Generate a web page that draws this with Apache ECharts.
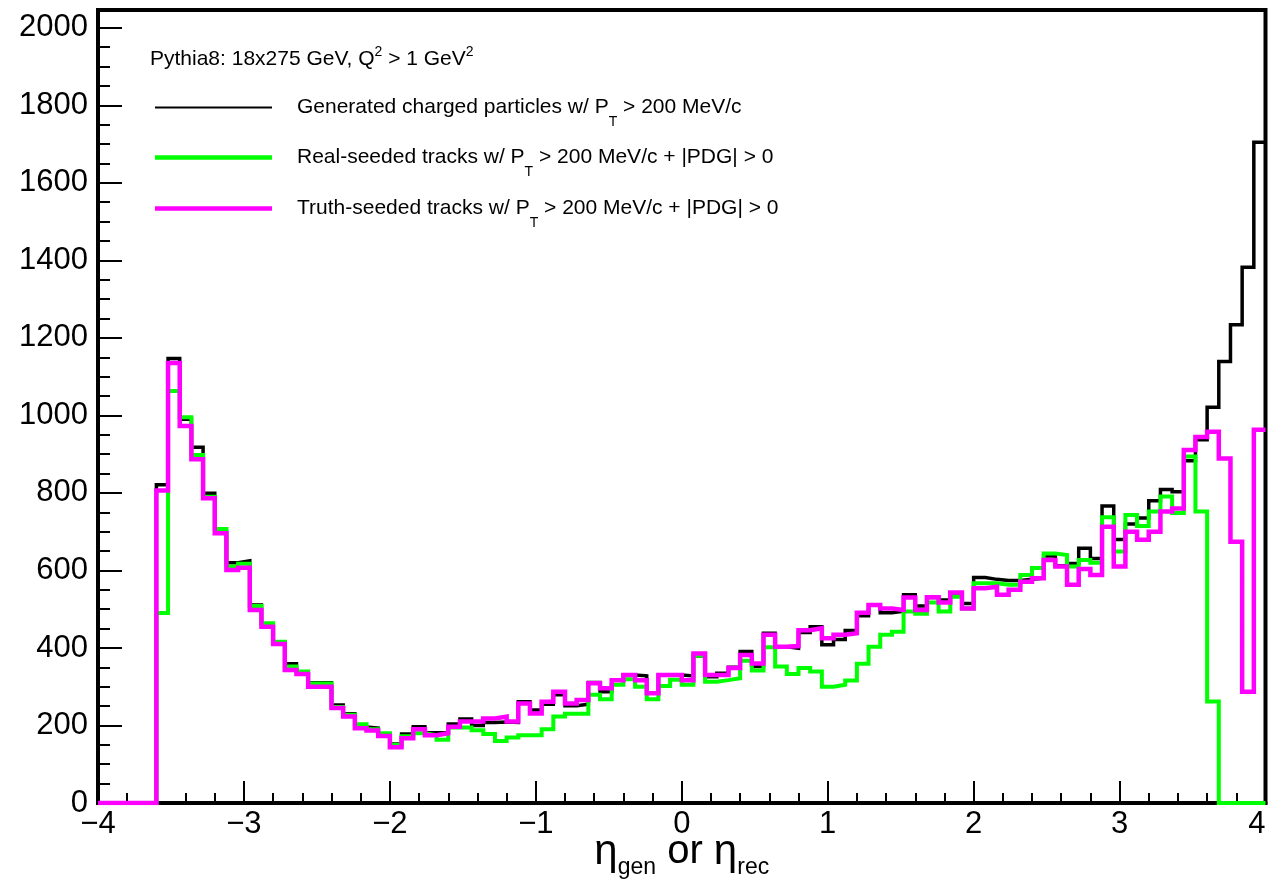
<!DOCTYPE html>
<html>
<head>
<meta charset="utf-8">
<title>eta distributions</title>
<script src="https://cdn.jsdelivr.net/npm/echarts@6/dist/echarts.min.js"></script>
<style>
  html, body { margin: 0; padding: 0; background: #ffffff; }
  #chart { width: 1269px; height: 880px; }
</style>
</head>
<body>
<div id="chart"></div>
<script>
// Histogram binning: 100 bins of width 0.08 over eta in [-4, 4]
const etaMin = -4;
const etaMax = 4;
const binWidth = 0.08;

// Bin contents, one entry per bin from eta = -4 upwards
const generated = [
  0, 0, 0, 0, 0, 821, 1147, 990, 918, 799,
  700, 620, 625, 511, 462, 416, 359, 338, 310, 310,
  253, 230, 196, 193, 178, 152, 178, 197, 181, 181,
  204, 217, 200, 208, 209, 208, 261, 240, 255, 279,
  251, 255, 311, 287, 317, 330, 328, 283, 330, 330,
  328, 379, 326, 335, 350, 391, 352, 438, 403, 399,
  440, 455, 408, 422, 445, 483, 511, 491, 495, 537,
  508, 530, 524, 534, 515, 582, 577, 574, 574, 577,
  580, 637, 612, 618, 657, 631, 766, 680, 720, 735,
  780, 809, 803, 883, 937, 1021, 1139, 1234, 1382, 1705
];

const realSeeded = [
  0, 0, 0, 0, 0, 490, 1063, 995, 898, 790,
  707, 610, 617, 508, 464, 416, 352, 339, 308, 308,
  248, 228, 203, 190, 180, 150, 172, 180, 175, 163,
  195, 195, 188, 178, 160, 169, 175, 175, 190, 223,
  230, 230, 279, 268, 305, 319, 300, 268, 302, 318,
  305, 380, 313, 317, 322, 367, 342, 402, 352, 333,
  348, 339, 300, 305, 316, 359, 403, 434, 442, 494,
  488, 517, 494, 532, 502, 567, 567, 563, 563, 588,
  606, 644, 640, 610, 627, 620, 737, 649, 743, 715,
  752, 791, 748, 894, 752, 262, 0, 0, 0, 0
];

const truthSeeded = [
  0, 0, 0, 0, 0, 806, 1135, 973, 887, 786,
  696, 601, 607, 498, 455, 410, 343, 333, 300, 300,
  245, 223, 193, 187, 173, 144, 167, 190, 175, 180,
  197, 210, 210, 218, 223, 210, 257, 231, 261, 287,
  257, 266, 309, 296, 317, 330, 317, 283, 330, 330,
  317, 386, 330, 330, 348, 382, 360, 434, 403, 405,
  446, 451, 425, 434, 438, 491, 511, 502, 498, 530,
  498, 531, 517, 543, 502, 554, 558, 537, 550, 571,
  580, 627, 610, 563, 604, 588, 713, 610, 700, 679,
  700, 752, 760, 911, 944, 958, 889, 674, 287, 963
];

// Series names (plain) and their rich-text legend labels
const seriesNames = [
  'Generated charged particles w/ PT > 200 MeV/c',
  'Real-seeded tracks w/ PT > 200 MeV/c + |PDG| > 0',
  'Truth-seeded tracks w/ PT > 200 MeV/c + |PDG| > 0'
];
const legendLabels = {
  [seriesNames[0]]: '{g|}{a|Generated charged particles w/ P}{s|T}{a| > 200 MeV/c}',
  [seriesNames[1]]: '{g|}{a|Real-seeded tracks w/ P}{s|T}{a| > 200 MeV/c + |PDG| > 0}',
  [seriesNames[2]]: '{g|}{a|Truth-seeded tracks w/ P}{s|T}{a| > 200 MeV/c + |PDG| > 0}'
};
const seriesColors = ['#000000', '#00ff00', '#ff00ff'];
const seriesWidths = [3.5, 4, 4.5];
const legendThickness = [2, 4.5, 4.5];
const legendLength = 117;

const yMax = 2046;
const font = "'Liberation Sans', Arial, Helvetica, sans-serif";

// Turn bin contents into left-edge step points, closing the last bin at etaMax
function toSteps(values) {
  const pts = values.map((v, i) => [+(etaMin + i * binWidth).toFixed(2), v]);
  pts.push([etaMax, values[values.length - 1]]);
  return pts;
}

const legendRich = {
  g: { width: 20 },
  a: { fontSize: 21, fontFamily: font, color: '#000', lineHeight: 44, verticalAlign: 'middle' },
  s: { fontSize: 14, fontFamily: font, color: '#000', lineHeight: 14, verticalAlign: 'bottom' }
};

function makeLegend(i, top) {
  const h = legendThickness[i];
  return {
    data: [{ name: seriesNames[i], icon: `path://M0,0H${legendLength}V${h}H0Z` }],
    left: 155,
    top: top,
    padding: 0,
    orient: 'vertical',
    itemWidth: legendLength,
    itemHeight: h,
    selectedMode: false,
    formatter: name => legendLabels[name],
    textStyle: { rich: legendRich }
  };
}

const minus = v => String(v).replace('-', '\u2212');

const chart = echarts.init(document.getElementById('chart'), null, { renderer: 'canvas' });

chart.setOption({
  animation: false,
  backgroundColor: '#ffffff',
  grid: {
    left: 98, right: 3.5, top: 10, bottom: 77,
    outerBoundsMode: 'none',
    containLabel: false,
    show: true, borderColor: '#000', borderWidth: 4, backgroundColor: 'transparent'
  },
  legend: [makeLegend(0, 97), makeLegend(1, 147), makeLegend(2, 198)],
  graphic: [{
    type: 'text',
    left: 150,
    top: 45,
    style: {
      text: '{a|Pythia8: 18x275 GeV, Q}{p|2}{a| > 1 GeV}{p|2}',
      rich: {
        a: { fontSize: 21, fontFamily: font, fill: '#000', lineHeight: 25, verticalAlign: 'bottom' },
        p: { fontSize: 14, fontFamily: font, fill: '#000', lineHeight: 14, verticalAlign: 'top' }
      }
    }
  }],
  xAxis: {
    type: 'value',
    min: etaMin, max: etaMax, interval: 1,
    axisLine: { onZero: false, lineStyle: { color: '#000', width: 4 } },
    axisTick: { inside: true, length: 22, lineStyle: { color: '#000', width: 2 } },
    minorTick: { show: true, splitNumber: 5, length: 10, lineStyle: { color: '#000', width: 2 } },
    splitLine: { show: false },
    axisLabel: {
      fontSize: 31, fontFamily: font, color: '#000', margin: 6, formatter: minus,
      alignMaxLabel: 'right'
    },
    name: '{e|\u03b7}{s|gen}{o| or }{e|\u03b7}{s|rec}',
    nameLocation: 'middle',
    nameGap: 22,
    nameMoveOverlap: false,
    nameTextStyle: {
      rich: {
        e: { fontSize: 42, fontFamily: font, color: '#000', lineHeight: 54, verticalAlign: 'middle' },
        o: { fontSize: 40, fontFamily: font, color: '#000', lineHeight: 54, verticalAlign: 'middle' },
        s: { fontSize: 23, fontFamily: font, color: '#000', lineHeight: 23, verticalAlign: 'bottom' }
      }
    }
  },
  yAxis: [{
    type: 'value',
    min: 0, max: yMax, interval: 200,
    axisLine: { onZero: false, lineStyle: { color: '#000', width: 4 } },
    axisTick: { inside: true, length: 24, lineStyle: { color: '#000', width: 2 } },
    splitLine: { show: false },
    axisLabel: {
      fontSize: 31, fontFamily: font, color: '#000', margin: 10, showMaxLabel: false,
      formatter: v => String(v)
    }
  }, {
    // minor ticks every 50
    type: 'value',
    position: 'left',
    min: 0, max: yMax, interval: 50,
    axisLine: { show: false, onZero: false },
    axisTick: { inside: true, length: 12, lineStyle: { color: '#000', width: 2 } },
    splitLine: { show: false },
    axisLabel: { show: false }
  }],
  series: [0, 1, 2].map(i => ({
    name: seriesNames[i],
    type: 'line',
    step: 'end',
    data: toSteps([generated, realSeeded, truthSeeded][i]),
    symbol: 'none',
    showSymbol: false,
    z: 2 + i,
    color: seriesColors[i],
    lineStyle: { color: seriesColors[i], width: seriesWidths[i], join: 'miter', cap: 'butt' },
    emphasis: { disabled: true },
    clip: true
  }))
});
</script>
</body>
</html>
